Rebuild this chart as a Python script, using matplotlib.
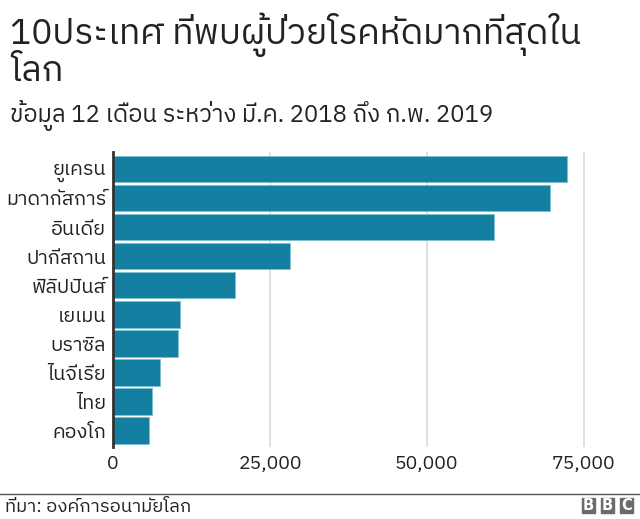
import matplotlib
matplotlib.use("Agg")
import matplotlib.pyplot as plt
from matplotlib import font_manager
from matplotlib.ft2font import FT2Font
from matplotlib.patches import Rectangle

# ---- data ----
countries = ["ยูเครน", "มาดากัสการ์", "อินเดีย", "ปากีสถาน", "ฟิลิปปินส์",
             "เยเมน", "บราซิล", "ไนจีเรีย", "ไทย", "คองโก"]
cases = [72400, 69700, 60700, 28200, 19400, 10600, 10300, 7500, 6200, 5800]
xticks = [0, 25000, 50000, 75000]
xtick_labels = ["0", "25,000", "50,000", "75,000"]
title_lines = ["10ประเทศ ที่พบผู้ป่วยโรคหัดมากที่สุดใน", "โลก"]
subtitle = "ข้อมูล 12 เดือน ระหว่าง มี.ค. 2018 ถึง ก.พ. 2019"
source = "ที่มา: องค์การอนามัยโลก"

# ---- find a font with Thai glyphs ----
def find_thai_font():
    best = None
    for f in font_manager.fontManager.ttflist:
        try:
            cm = FT2Font(f.fname).get_charmap()
        except Exception:
            continue
        if 0x0E01 in cm and 0x0E49 in cm:
            score = 0
            if f.weight in (400, "normal", "regular"):
                score += 2
            if f.style == "normal":
                score += 2
            if "sans" in f.name.lower():
                score += 1
            if best is None or score > best[0]:
                best = (score, f.name)
    return best[1] if best else None

thai = find_thai_font()
fams = ([thai] if thai else []) + ["DejaVu Sans"]
plt.rcParams["font.family"] = fams

W, H = 640, 519
fig = plt.figure(figsize=(W / 100, H / 100), dpi=100)
fig.patch.set_facecolor("white")

ax = fig.add_axes([113 / W, 1 - 447 / H, (615 - 113) / W, (447 - 152) / H])
y = list(range(len(countries)))
ax.barh(y, cases, height=0.91, color="#1380A1", edgecolor="#7dbfd2",
        linewidth=0.6, zorder=3)
ax.set_ylim(len(countries) - 1 + 0.56, -0.58)
ax.set_xlim(0, 80000)
ax.set_yticks(y)
ax.set_yticklabels(countries, fontsize=14.3, color="#222222")
ax.set_xticks(xticks)
ax.set_xticklabels(xtick_labels, fontsize=14, color="#222222")
ax.tick_params(axis="both", length=0)
ax.tick_params(axis="y", pad=5)
ax.tick_params(axis="x", pad=6)
for s in ["top", "right", "bottom"]:
    ax.spines[s].set_visible(False)
ax.spines["left"].set_color("#333333")
ax.spines["left"].set_linewidth(2)
ax.spines["left"].set_zorder(4)
for t in xticks[1:]:
    ax.axvline(t, color="#dddddd", linewidth=1.3, zorder=1)

# ---- text ----
fig.text(10 / W, 1 - 44 / H, title_lines[0], fontsize=25.5, color="#222222",
         ha="left", va="baseline")
fig.text(10 / W, 1 - 81 / H, title_lines[1], fontsize=25.5, color="#222222",
         ha="left", va="baseline")
fig.text(10 / W, 1 - 122 / H, subtitle, fontsize=17.2, color="#222222",
         ha="left", va="baseline")

# footer line
fig.add_artist(plt.Line2D([0, 1], [1 - 494 / H, 1 - 494 / H],
                          color="#555555", linewidth=1))
fig.text(5 / W, 1 - 512 / H, source, fontsize=13.3, color="#222222",
         ha="left", va="baseline")

# BBC logo
for i, letter in enumerate("BBC"):
    x0 = 582 + i * 19
    fig.add_artist(Rectangle((x0 / W, 1 - 513 / H), 13 / W, 15 / H,
                             transform=fig.transFigure, color="#6b6b6b"))
    fig.text((x0 + 6.5) / W, 1 - 505.5 / H, letter, fontsize=10.5,
             color="white", ha="center", va="center", fontweight="bold",
             family="DejaVu Sans")

fig.savefig("out.png", dpi=100, facecolor="white")
